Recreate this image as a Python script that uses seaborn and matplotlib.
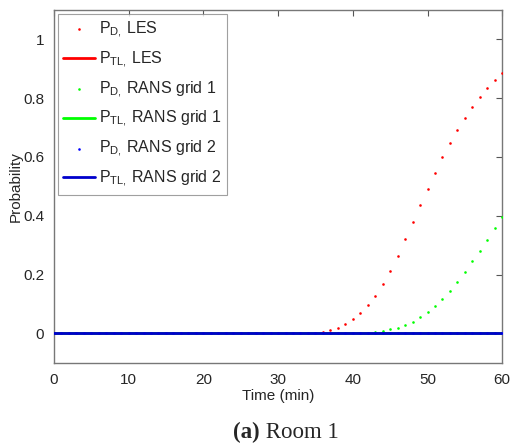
import numpy as np
import pandas as pd
import matplotlib
matplotlib.use("Agg")
import matplotlib.pyplot as plt
import seaborn as sns

time_min = list(range(0, 61))
pd_les_tail = [0.001, 0.006, 0.011, 0.020, 0.032, 0.049, 0.071, 0.096, 0.129, 0.167,
               0.212, 0.264, 0.322, 0.378, 0.437, 0.4925, 0.546, 0.600, 0.647, 0.692,
               0.734, 0.770, 0.804, 0.834, 0.861, 0.884]  # minutes 35..60
pd_les = [0.0] * 35 + pd_les_tail
pd_rans1_tail = [0.001, 0.003, 0.006, 0.009, 0.014, 0.020, 0.028, 0.040, 0.055, 0.073,
                 0.092, 0.117, 0.146, 0.176, 0.209, 0.245, 0.280, 0.317, 0.357, 0.397]  # 41..60
pd_rans1 = [0.0] * 41 + pd_rans1_tail
pd_rans2 = [0.0] * 61
ptl_les = [0.0] * 61
ptl_rans1 = [0.0] * 61
ptl_rans2 = [0.0] * 61

sns.set_style("white")
plt.rcParams['font.family'] = ['Liberation Sans', 'DejaVu Sans']
plt.rcParams['mathtext.fontset'] = 'custom'
plt.rcParams['mathtext.rm'] = 'Liberation Sans'

fig = plt.figure(figsize=(5.13, 4.48), dpi=100)
ax = fig.add_axes([0.105, 0.19, 0.874, 0.788])

red, green, blue = '#ff0000', '#00ff00', '#0000ff'

sns.scatterplot(x=time_min, y=pd_les, ax=ax, color=red, s=3.5, marker='o', linewidth=0,
                label=r'$\mathregular{P_{D,}\,}$LES', zorder=3)
sns.lineplot(x=time_min, y=ptl_les, ax=ax, color=red, linewidth=2,
             label=r'$\mathregular{P_{TL,}\,}$LES', zorder=2)
sns.scatterplot(x=time_min, y=pd_rans1, ax=ax, color=green, s=3.5, marker='o', linewidth=0,
                label=r'$\mathregular{P_{D,}\,}$RANS grid 1', zorder=3)
sns.lineplot(x=time_min, y=ptl_rans1, ax=ax, color=green, linewidth=2,
             label=r'$\mathregular{P_{TL,}\,}$RANS grid 1', zorder=2)
sns.scatterplot(x=time_min, y=pd_rans2, ax=ax, color=blue, s=3.5, marker='o', linewidth=0,
                label=r'$\mathregular{P_{D,}\,}$RANS grid 2', zorder=3)
sns.lineplot(x=time_min, y=ptl_rans2, ax=ax, color='#0000cc', linewidth=2,
             label=r'$\mathregular{P_{TL,}\,}$RANS grid 2', zorder=4)

ax.set_xlim(0, 60)
ax.set_ylim(-0.1, 1.1)
ax.set_xticks([0, 10, 20, 30, 40, 50, 60])
ax.set_yticks([0, 0.2, 0.4, 0.6, 0.8, 1.0])
ax.set_yticklabels(['0', '0.2', '0.4', '0.6', '0.8', '1'])
ax.tick_params(direction='in', top=True, right=True, length=4, width=0.8,
               color='#555555', labelsize=11, pad=7)
for sp in ax.spines.values():
    sp.set_color('#777777')
    sp.set_linewidth(1.0)

ax.set_xlabel('Time (min)', fontsize=11, labelpad=2)
ax.set_ylabel('Probability', fontsize=11, labelpad=0)

leg = ax.legend(loc='upper left', bbox_to_anchor=(0.0, 1.0), fontsize=11.5,
                frameon=True, fancybox=False, borderaxespad=0.25,
                handlelength=2.0, handletextpad=0.2, labelspacing=0.6,
                markerscale=1.0, borderpad=0.35)
leg.get_frame().set_edgecolor('#888888')
leg.get_frame().set_linewidth(0.8)

fig.text(0.507, 0.034, '(a)', ha='right', va='center', fontsize=16.5,
         family=['Liberation Serif'], fontweight='bold')
fig.text(0.507, 0.034, ' Room 1', ha='left', va='center', fontsize=16.5,
         family=['Liberation Serif'])

fig.savefig('out.png', dpi=100)
